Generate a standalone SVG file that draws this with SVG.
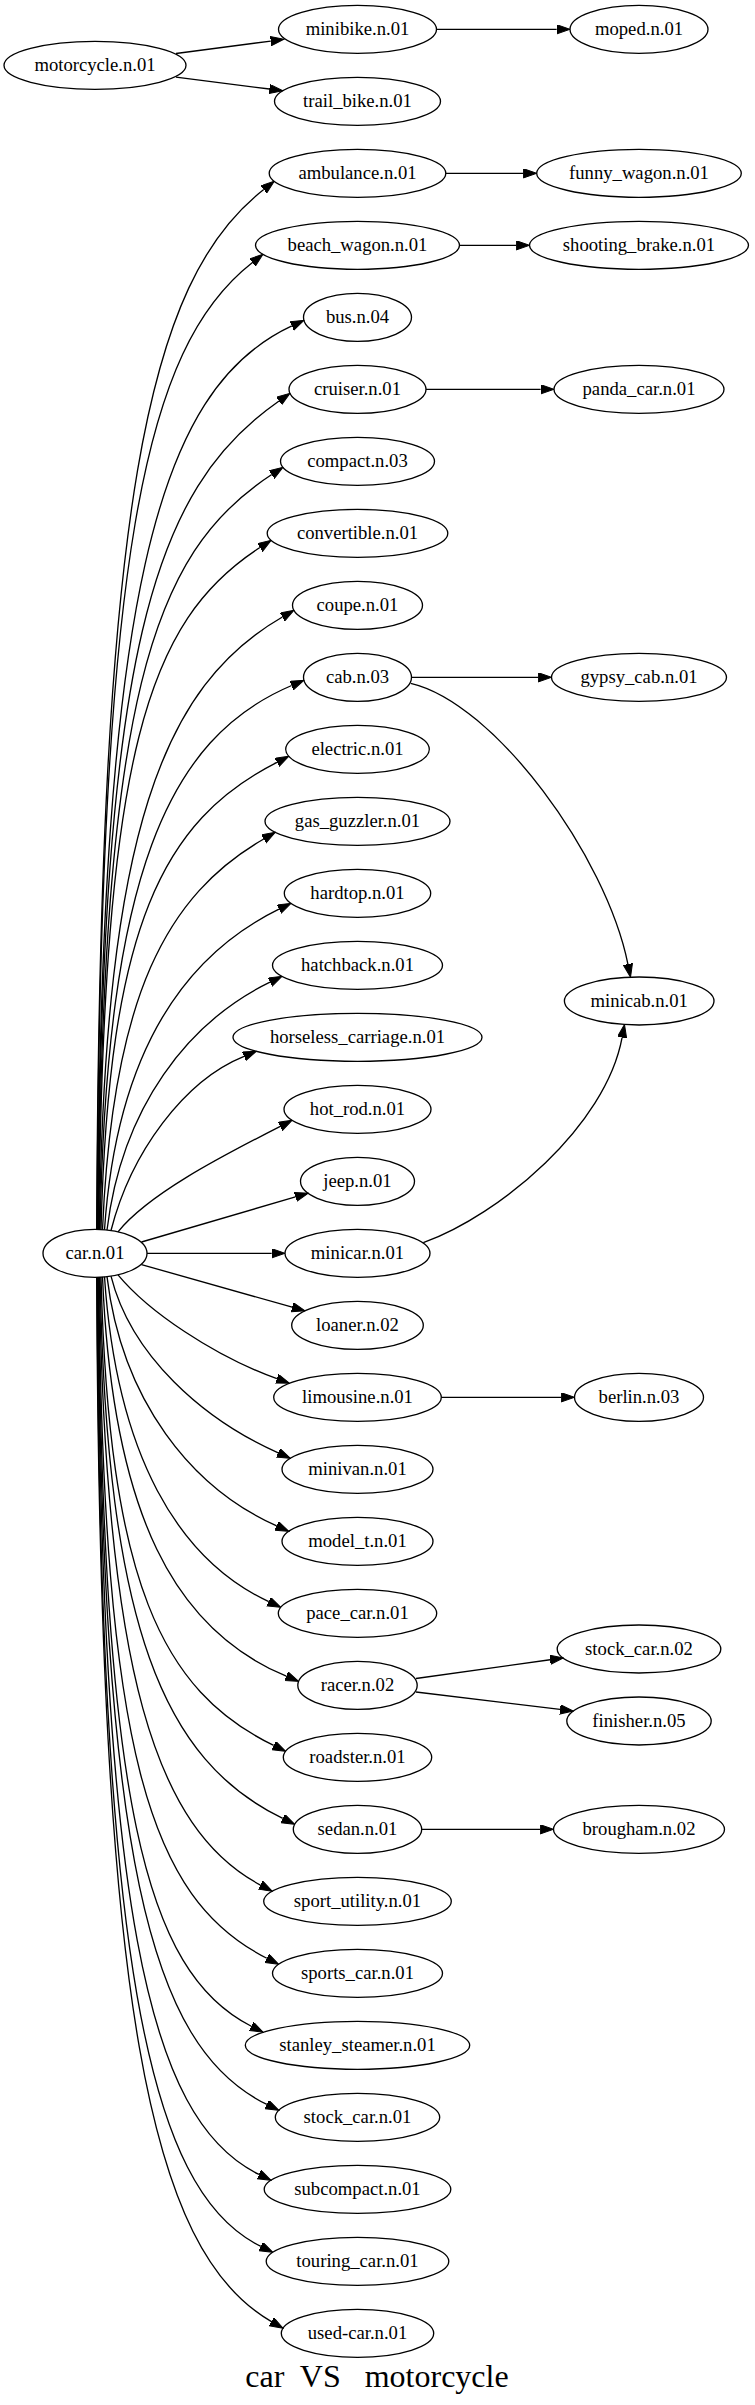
<svg xmlns="http://www.w3.org/2000/svg" width="755" height="2405" viewBox="0 0 755 2405">
<style>
.n ellipse{fill:none;stroke:#000;stroke-width:1.33}
.n text{font-family:"Liberation Serif","Times New Roman",serif;font-size:18.67px;text-anchor:middle;fill:#000}
#edges path{fill:none;stroke:#000;stroke-width:1.33;marker-end:url(#ah)}
.title{font-family:"Liberation Serif","Times New Roman",serif;font-size:32px;text-anchor:middle;fill:#000;white-space:pre}
</style>
<defs>
<marker id="ah" markerWidth="14" markerHeight="10" refX="0" refY="4.67" orient="auto" markerUnits="userSpaceOnUse"><path d="M0,0 L13.33,4.67 L0,9.33 Z" fill="#000" stroke="#000" stroke-width="1"/></marker>
</defs>
<rect width="755" height="2405" fill="#fff"/>
<g id="edges">
<path d="M176,53.5 L270.78,41.04"/>
<path d="M176,77.2 L269.38,89.03"/>
<path d="M436.5,29.3 L556.67,29.3"/>
<path d="M445.8,173.3 L523.37,173.3"/>
<path d="M459.5,245.3 L516.17,245.3"/>
<path d="M426,389.3 L540.67,389.3"/>
<path d="M411.5,677.3 L538.17,677.3"/>
<path d="M410.7,683.3 C495,703 606.3,856.2 627.9,964.1"/>
<path d="M423.3,1242.7 C500,1215 605.7,1126.1 622.07,1037.6"/>
<path d="M441.3,1397.3 L561.17,1397.3"/>
<path d="M416,1678.5 L550.1,1659.75"/>
<path d="M416,1692 L560.06,1709.4"/>
<path d="M421.7,1829.3 L540.17,1829.3"/>
<path d="M96.7,1229.3 C99.7,501.45 146.81,280.84 263.75,189.51"/>
<path d="M97,1229.3 C100,552.55 143.63,347.5 252.45,262.51"/>
<path d="M97.4,1229.4 C101.4,596.97 155.73,389.36 291.84,325.93"/>
<path d="M97.8,1229.4 C101.8,649.48 152.17,489.76 279.04,400.95"/>
<path d="M98.2,1229.4 C103.2,701.01 150.27,553.42 271.78,474.56"/>
<path d="M98.7,1229.5 C103.7,752.14 147.07,620.82 259.95,547.56"/>
<path d="M99.3,1229.5 C105.3,831.36 163.38,685.64 282.39,616.97"/>
<path d="M100,1229.5 C107,875.91 167.08,738.33 291.65,685.51"/>
<path d="M101,1229.6 C109,925.89 162.58,820.67 276.94,762.35"/>
<path d="M102.5,1229.7 C112.5,995.26 167,894.79 263.75,838.97"/>
<path d="M104.5,1229.8 C116.5,1053.44 183.02,955.97 278.98,909.14"/>
<path d="M107,1230 C122,1106.07 188.48,1021.91 269.97,982.14"/>
<path d="M111,1230.5 C131,1152.11 184.17,1080.49 244.04,1056.3"/>
<path d="M118,1231.8 C148,1194.89 215.37,1159.46 280.29,1126.35"/>
<path d="M141.5,1242 L295.46,1196.9"/>
<path d="M147,1253.3 L271.67,1253.3"/>
<path d="M141.5,1264.6 L292.17,1307.18"/>
<path d="M118,1274.8 C148,1311.18 213.35,1355.6 276.91,1378.74"/>
<path d="M111,1276.1 C131,1355.65 202.97,1419.39 278.22,1452.88"/>
<path d="M107,1276.6 C122,1401.24 191.84,1488.12 276.69,1525.88"/>
<path d="M104.5,1276.8 C116.5,1455.48 178.41,1559.57 268.75,1601.67"/>
<path d="M102.5,1276.9 C112.5,1516.48 176.03,1630.54 286.32,1676.2"/>
<path d="M101,1277 C109,1581.5 161.44,1690.68 273.69,1745.46"/>
<path d="M100,1277.1 C107,1628.98 163.96,1760.5 282.73,1818.46"/>
<path d="M99.3,1277.1 C105.3,1672.26 155.71,1829.31 260.47,1885.04"/>
<path d="M98.7,1277.1 C103.7,1753.91 149.14,1898.23 266.82,1958.25"/>
<path d="M98.2,1277.2 C103.2,1801.54 144.13,1971.59 251.3,2026.25"/>
<path d="M97.8,1277.2 C101.8,1856.28 148.53,2046.7 266.9,2104.46"/>
<path d="M97.4,1277.2 C101.4,1905.28 145.89,2119.25 259.03,2174.46"/>
<path d="M97,1277.3 C100,1955.71 146.16,2190.48 260.88,2246.46"/>
<path d="M96.7,1277.3 C99.7,2008.33 149.12,2251.05 271.44,2321.63"/>
</g>
<g id="motorcycle" class="n"><ellipse cx="95" cy="65.3" rx="91" ry="24"/><text x="95" y="71.3">motorcycle.n.01</text></g>
<g id="minibike" class="n"><ellipse cx="357.5" cy="29.3" rx="79" ry="24"/><text x="357.5" y="35.3">minibike.n.01</text></g>
<g id="trail_bike" class="n"><ellipse cx="357.5" cy="101.3" rx="83" ry="24"/><text x="357.5" y="107.3">trail_bike.n.01</text></g>
<g id="moped" class="n"><ellipse cx="639" cy="29.3" rx="69" ry="24"/><text x="639" y="35.3">moped.n.01</text></g>
<g id="car" class="n"><ellipse cx="95" cy="1253.3" rx="52" ry="24"/><text x="95" y="1259.3">car.n.01</text></g>
<g id="ambulance" class="n"><ellipse cx="357.5" cy="173.3" rx="88.3" ry="24"/><text x="357.5" y="179.3">ambulance.n.01</text></g>
<g id="beach_wagon" class="n"><ellipse cx="357.5" cy="245.3" rx="102" ry="24"/><text x="357.5" y="251.3">beach_wagon.n.01</text></g>
<g id="bus" class="n"><ellipse cx="357.5" cy="317.3" rx="54" ry="24"/><text x="357.5" y="323.3">bus.n.04</text></g>
<g id="cruiser" class="n"><ellipse cx="357.5" cy="389.3" rx="68.5" ry="24"/><text x="357.5" y="395.3">cruiser.n.01</text></g>
<g id="compact" class="n"><ellipse cx="357.5" cy="461.3" rx="77" ry="24"/><text x="357.5" y="467.3">compact.n.03</text></g>
<g id="convertible" class="n"><ellipse cx="357.5" cy="533.3" rx="90.3" ry="24"/><text x="357.5" y="539.3">convertible.n.01</text></g>
<g id="coupe" class="n"><ellipse cx="357.5" cy="605.3" rx="65" ry="24"/><text x="357.5" y="611.3">coupe.n.01</text></g>
<g id="cab" class="n"><ellipse cx="357.5" cy="677.3" rx="54" ry="24"/><text x="357.5" y="683.3">cab.n.03</text></g>
<g id="electric" class="n"><ellipse cx="357.5" cy="749.3" rx="71.8" ry="24"/><text x="357.5" y="755.3">electric.n.01</text></g>
<g id="gas_guzzler" class="n"><ellipse cx="357.5" cy="821.3" rx="92.5" ry="24"/><text x="357.5" y="827.3">gas_guzzler.n.01</text></g>
<g id="hardtop" class="n"><ellipse cx="357.5" cy="893.3" rx="73.2" ry="24"/><text x="357.5" y="899.3">hardtop.n.01</text></g>
<g id="hatchback" class="n"><ellipse cx="357.5" cy="965.3" rx="85" ry="24"/><text x="357.5" y="971.3">hatchback.n.01</text></g>
<g id="horseless_carriage" class="n"><ellipse cx="357.5" cy="1037.3" rx="124.5" ry="24"/><text x="357.5" y="1043.3">horseless_carriage.n.01</text></g>
<g id="hot_rod" class="n"><ellipse cx="357.5" cy="1109.3" rx="73.5" ry="24"/><text x="357.5" y="1115.3">hot_rod.n.01</text></g>
<g id="jeep" class="n"><ellipse cx="357.5" cy="1181.3" rx="57" ry="24"/><text x="357.5" y="1187.3">jeep.n.01</text></g>
<g id="minicar" class="n"><ellipse cx="357.5" cy="1253.3" rx="72.5" ry="24"/><text x="357.5" y="1259.3">minicar.n.01</text></g>
<g id="loaner" class="n"><ellipse cx="357.5" cy="1325.3" rx="65.8" ry="24"/><text x="357.5" y="1331.3">loaner.n.02</text></g>
<g id="limousine" class="n"><ellipse cx="357.5" cy="1397.3" rx="83.8" ry="24"/><text x="357.5" y="1403.3">limousine.n.01</text></g>
<g id="minivan" class="n"><ellipse cx="357.5" cy="1469.3" rx="75.5" ry="24"/><text x="357.5" y="1475.3">minivan.n.01</text></g>
<g id="model_t" class="n"><ellipse cx="357.5" cy="1541.3" rx="75.5" ry="24"/><text x="357.5" y="1547.3">model_t.n.01</text></g>
<g id="pace_car" class="n"><ellipse cx="357.5" cy="1613.3" rx="79.2" ry="24"/><text x="357.5" y="1619.3">pace_car.n.01</text></g>
<g id="racer" class="n"><ellipse cx="357.5" cy="1685.3" rx="59.7" ry="24"/><text x="357.5" y="1691.3">racer.n.02</text></g>
<g id="roadster" class="n"><ellipse cx="357.5" cy="1757.3" rx="74.2" ry="24"/><text x="357.5" y="1763.3">roadster.n.01</text></g>
<g id="sedan" class="n"><ellipse cx="357.5" cy="1829.3" rx="64.2" ry="24"/><text x="357.5" y="1835.3">sedan.n.01</text></g>
<g id="sport_utility" class="n"><ellipse cx="357.5" cy="1901.3" rx="93.8" ry="24"/><text x="357.5" y="1907.3">sport_utility.n.01</text></g>
<g id="sports_car" class="n"><ellipse cx="357.5" cy="1973.3" rx="85" ry="24"/><text x="357.5" y="1979.3">sports_car.n.01</text></g>
<g id="stanley_steamer" class="n"><ellipse cx="357.5" cy="2045.3" rx="112.2" ry="24"/><text x="357.5" y="2051.3">stanley_steamer.n.01</text></g>
<g id="stock_car_01" class="n"><ellipse cx="357.5" cy="2117.3" rx="82.2" ry="24"/><text x="357.5" y="2123.3">stock_car.n.01</text></g>
<g id="subcompact" class="n"><ellipse cx="357.5" cy="2189.3" rx="93.3" ry="24"/><text x="357.5" y="2195.3">subcompact.n.01</text></g>
<g id="touring_car" class="n"><ellipse cx="357.5" cy="2261.3" rx="91.3" ry="24"/><text x="357.5" y="2267.3">touring_car.n.01</text></g>
<g id="used-car" class="n"><ellipse cx="357.5" cy="2333.3" rx="76.2" ry="24"/><text x="357.5" y="2339.3">used-car.n.01</text></g>
<g id="funny_wagon" class="n"><ellipse cx="639" cy="173.3" rx="102.3" ry="24"/><text x="639" y="179.3">funny_wagon.n.01</text></g>
<g id="shooting_brake" class="n"><ellipse cx="639" cy="245.3" rx="109.5" ry="24"/><text x="639" y="251.3">shooting_brake.n.01</text></g>
<g id="panda_car" class="n"><ellipse cx="639" cy="389.3" rx="85" ry="24"/><text x="639" y="395.3">panda_car.n.01</text></g>
<g id="gypsy_cab" class="n"><ellipse cx="639" cy="677.3" rx="87.5" ry="24"/><text x="639" y="683.3">gypsy_cab.n.01</text></g>
<g id="minicab" class="n"><ellipse cx="639.2" cy="1001" rx="74.8" ry="24"/><text x="639.2" y="1007">minicab.n.01</text></g>
<g id="berlin" class="n"><ellipse cx="639" cy="1397.3" rx="64.5" ry="24"/><text x="639" y="1403.3">berlin.n.03</text></g>
<g id="stock_car_02" class="n"><ellipse cx="639" cy="1649" rx="81.8" ry="24"/><text x="639" y="1655">stock_car.n.02</text></g>
<g id="finisher" class="n"><ellipse cx="639" cy="1721" rx="72.2" ry="24"/><text x="639" y="1727">finisher.n.05</text></g>
<g id="brougham" class="n"><ellipse cx="639" cy="1829.3" rx="85.5" ry="24"/><text x="639" y="1835.3">brougham.n.02</text></g>
<text class="title" x="377" y="2387" xml:space="preserve">car  VS   motorcycle</text>
</svg>
